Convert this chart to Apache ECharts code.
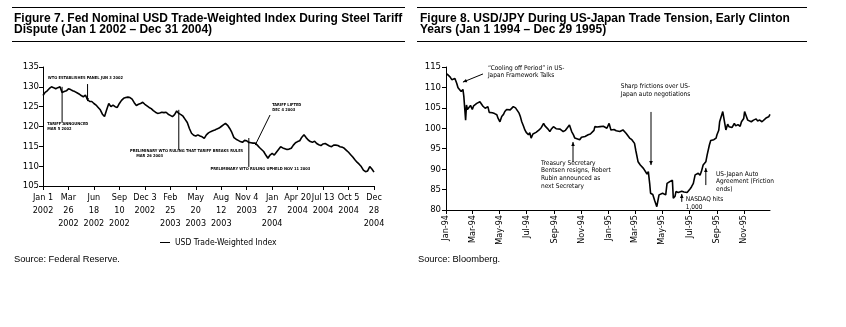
<!DOCTYPE html>
<html>
<head>
<meta charset="utf-8">
<script src="https://cdn.jsdelivr.net/npm/echarts@6/dist/echarts.min.js"></script>
<style>
html, body { margin: 0; padding: 0; background: #fff; }
#chart { width: 846px; height: 327px; }
</style>
</head>
<body>
<div id="chart"></div>
<script>
// Figure 7: weekly Fed nominal USD trade-weighted index, first week of Jan 2002 onward
const twiValues = [
  127.8, 128.6, 129.0, 129.6, 130.0, 129.8, 129.5, 129.8, 130.0, 128.6,
  128.8, 129.0, 129.5, 129.3, 129.0, 128.8, 128.5, 128.2, 127.8, 127.5,
  127.9, 126.8, 126.3, 126.3, 125.8, 125.4, 124.8, 124.2, 123.1, 122.5,
  124.2, 125.8, 125.0, 125.4, 125.0, 124.8, 125.8, 126.6, 127.1, 127.3,
  127.4, 127.3, 126.9, 126.0, 125.3, 125.6, 125.8, 126.1, 125.6, 125.2,
  124.8, 124.5, 124.0, 123.6, 123.3, 123.4, 123.6, 123.5, 123.6, 123.1,
  122.8, 122.5, 123.0, 123.9, 123.3, 123.0, 122.6, 121.8, 121.0, 119.5,
  118.3, 117.8, 117.6, 117.9, 117.6, 117.4, 117.0, 117.9, 118.4, 118.7,
  118.9, 119.1, 119.4, 119.6, 120.0, 120.4, 120.8, 120.3, 119.5, 118.5,
  117.2, 116.8, 116.5, 116.2, 116.0, 116.5, 116.4, 116.0, 115.9, 115.8,
  115.8, 115.3, 114.7, 114.2, 113.7, 112.8, 112.0, 112.8, 113.2, 112.8,
  113.5, 114.2, 114.9, 114.6, 114.4, 114.2, 114.3, 114.5, 115.3, 115.9,
  116.2, 116.4, 117.3, 117.9, 117.2, 116.6, 116.2, 116.0, 116.3, 115.7,
  115.4, 115.2, 115.6, 115.7, 115.4, 115.1, 114.9, 115.3, 115.3, 115.2,
  114.9, 114.8, 114.5, 114.0, 113.5, 112.9, 112.3, 111.6, 111.0, 110.5,
  109.9, 109.0, 108.6, 108.8, 109.9, 109.3, 108.5
];

// Tick labels shown every twelfth week
const twiTickLabels = [
  'Jan 1\n2002', 'Mar\n26\n2002', 'Jun\n18\n2002', 'Sep\n10\n2002', 'Dec 3\n2002',
  'Feb\n25\n2003', 'May\n20\n2003', 'Aug\n12\n2003', 'Nov 4\n2003', 'Jan\n27\n2004',
  'Apr 20\n2004', 'Jul 13\n2004', 'Oct 5\n2004', 'Dec\n28\n2004'
];

// Figure 8: USD/JPY
const jpyDates = [
  '1994-01-03','1994-01-07','1994-01-10','1994-01-14','1994-01-17','1994-01-21','1994-01-25','1994-01-28',
  '1994-02-01','1994-02-04','1994-02-08','1994-02-10','1994-02-14','1994-02-16','1994-02-18','1994-02-22','1994-02-25',
  '1994-03-01','1994-03-04','1994-03-08','1994-03-11','1994-03-15','1994-03-18','1994-03-22','1994-03-25','1994-03-30',
  '1994-04-05','1994-04-08','1994-04-12','1994-04-15','1994-04-20','1994-04-25','1994-04-28',
  '1994-05-02','1994-05-06','1994-05-10','1994-05-13','1994-05-17','1994-05-20','1994-05-25',
  '1994-06-01','1994-06-06','1994-06-09','1994-06-14','1994-06-17','1994-06-20','1994-06-24','1994-06-27','1994-06-30',
  '1994-07-05','1994-07-08','1994-07-11','1994-07-15','1994-07-19','1994-07-22','1994-07-26','1994-07-29',
  '1994-08-03','1994-08-08','1994-08-11','1994-08-15','1994-08-18','1994-08-22','1994-08-26','1994-08-30',
  '1994-09-05','1994-09-09','1994-09-14','1994-09-21','1994-09-26','1994-09-30',
  '1994-10-05','1994-10-10','1994-10-14','1994-10-17','1994-10-21','1994-10-28',
  '1994-11-01','1994-11-04','1994-11-09','1994-11-16','1994-11-21','1994-11-25','1994-11-29',
  '1994-12-01','1994-12-06','1994-12-13','1994-12-16','1994-12-20','1994-12-23','1994-12-28',
  '1995-01-02','1995-01-06','1995-01-10','1995-01-13','1995-01-18','1995-01-22','1995-01-26',
  '1995-02-02','1995-02-09','1995-02-13','1995-02-17','1995-02-22','1995-02-28',
  '1995-03-03','1995-03-08','1995-03-13','1995-03-16','1995-03-20','1995-03-23','1995-03-28','1995-03-31',
  '1995-04-03','1995-04-05','1995-04-10','1995-04-14','1995-04-19','1995-04-21','1995-04-24','1995-04-28',
  '1995-05-02','1995-05-05','1995-05-09','1995-05-12','1995-05-16','1995-05-19','1995-05-24','1995-05-26','1995-05-30',
  '1995-06-01','1995-06-06','1995-06-09','1995-06-14','1995-06-19','1995-06-21','1995-06-26','1995-06-29',
  '1995-07-03','1995-07-06','1995-07-10','1995-07-14','1995-07-18','1995-07-21','1995-07-25','1995-07-28',
  '1995-08-01','1995-08-04','1995-08-07','1995-08-10','1995-08-15','1995-08-18','1995-08-22','1995-08-25','1995-08-30',
  '1995-09-01','1995-09-05','1995-09-07','1995-09-12','1995-09-14','1995-09-18','1995-09-21','1995-09-25','1995-09-28',
  '1995-10-02','1995-10-05','1995-10-10','1995-10-13','1995-10-18','1995-10-23','1995-10-26','1995-10-31',
  '1995-11-02','1995-11-06','1995-11-09','1995-11-13','1995-11-17','1995-11-22','1995-11-28',
  '1995-12-01','1995-12-06','1995-12-11','1995-12-15','1995-12-20','1995-12-26','1995-12-29'
];
const jpyValues = [
  113.3, 112.9, 112.6, 111.9, 111.8, 112.2, 111.0, 109.9,
  110.3, 109.0, 109.5, 107.8, 102.0, 105.7, 104.6, 104.5, 105.6,
  104.6, 105.5, 105.9, 106.1, 105.8, 106.5, 106.1, 105.4, 104.9,
  105.3, 103.9, 104.1, 103.8, 103.6, 103.3, 102.4,
  101.6, 102.9, 103.4, 104.1, 104.6, 104.9, 104.5,
  105.3, 105.0, 104.9, 103.7, 102.8, 101.6, 100.5, 99.6, 99.0,
  98.4, 98.9, 97.6, 98.6, 98.2, 99.0, 98.8, 99.6,
  100.2, 101.2, 100.6, 100.4, 99.8, 99.2, 99.9, 100.4,
  99.9, 99.6, 99.8, 99.2, 99.5, 99.9,
  100.8, 99.2, 98.4, 97.6, 97.4, 97.2,
  97.8, 97.6, 98.0, 98.4, 98.6, 98.8, 99.5,
  100.4, 100.3, 100.4, 100.2, 100.5, 100.4, 100.0,
  101.2, 99.6, 100.0, 99.7, 99.4, 99.8, 99.2,
  99.6, 98.8, 98.6, 97.6, 97.2, 96.3,
  94.5, 91.8, 91.0, 90.6, 90.2, 89.8, 88.8, 89.4,
  86.5, 84.1, 83.8, 82.4, 80.8, 82.0, 83.7, 84.0,
  84.1, 83.8, 83.7, 86.5, 86.8, 87.0, 87.3, 82.9, 83.4,
  84.5, 84.3, 84.1, 84.6, 84.4, 84.5, 84.3, 84.5,
  85.2, 85.7, 86.5, 88.6, 88.2, 89.0, 88.5, 89.4,
  91.0, 90.6, 91.8, 93.5, 95.9, 97.0, 97.1, 97.2, 97.6,
  98.4, 99.5, 101.6, 103.4, 104.1, 104.5, 99.6, 101.0, 100.4,
  100.8, 100.2, 101.2, 100.6, 100.9, 100.5, 101.6, 102.4,
  104.1, 102.9, 102.0, 102.4, 101.6, 102.0, 102.3,
  101.8, 102.0, 101.6, 101.9, 102.5, 102.8, 103.4
];
const MONTHS = ['Jan','Feb','Mar','Apr','May','Jun','Jul','Aug','Sep','Oct','Nov','Dec'];

const DAY = 86400000;
const ts = s => { const p = s.split('-').map(Number); return Date.UTC(p[0], p[1] - 1, p[2]); };

const twiWeeks = twiValues.map((_, i) => new Date(Date.UTC(2002, 0, 1) + i * 7 * DAY).toISOString().slice(0, 10));
const twiLabelMap = {};
twiTickLabels.forEach((t, k) => { twiLabelMap[twiWeeks[k * 12]] = t; });
const jpyData = jpyDates.map((d, i) => [ts(d), jpyValues[i]]);

const NARROW = "'Liberation Sans Narrow', 'Arial Narrow', 'DejaVu Sans Condensed', sans-serif";
const SANS = "'Liberation Sans', Arial, sans-serif";

const chart = echarts.init(document.getElementById('chart'), null, { renderer: 'canvas' });

const axisLine = { show: true, lineStyle: { color: '#000', width: 1 } };
const axisTick = { show: true, length: 4, lineStyle: { color: '#000', width: 1 } };
const titleStyle = { fontFamily: SANS, fontWeight: 'bold', fontSize: 12, lineHeight: 11.5, color: '#000' };

chart.setOption({
  animation: false,
  useUTC: true,
  backgroundColor: '#fff',
  title: [
    {
      text: 'Figure 7. Fed Nominal USD Trade-Weighted Index During Steel Tariff\nDispute (Jan 1 2002 \u2013 Dec 31 2004)',
      left: 14, top: 12.5, padding: 0, textStyle: titleStyle
    },
    {
      text: 'Figure 8. USD/JPY During US-Japan Trade Tension, Early Clinton\nYears (Jan 1 1994 \u2013 Dec 29 1995)',
      left: 420, top: 12.5, padding: 0, textStyle: titleStyle
    },
    {
      text: 'Source: Federal Reserve.', left: 14, top: 255, padding: 0,
      textStyle: { fontFamily: SANS, fontWeight: 'normal', fontSize: 9.3, color: '#000' }
    },
    {
      text: 'Source: Bloomberg.', left: 418, top: 255, padding: 0,
      textStyle: { fontFamily: SANS, fontWeight: 'normal', fontSize: 9.3, color: '#000' }
    }
  ],
  legend: {
    data: ['USD Trade-Weighted Index'],
    left: 160, top: 238, padding: 0,
    icon: 'rect', itemWidth: 10, itemHeight: 1, itemGap: 4,
    textStyle: { fontFamily: NARROW, fontSize: 8.5, color: '#000' }
  },
  grid: [
    { left: 43, right: 472, top: 67, bottom: 141 },
    { left: 446, right: 76, top: 67, bottom: 117 }
  ],
  xAxis: [
    {
      type: 'category', gridIndex: 0, data: twiWeeks, boundaryGap: false,
      axisLine, axisTick: Object.assign({ interval: 11 }, axisTick),
      axisLabel: {
        interval: 11, margin: 5, color: '#000', fontFamily: NARROW, fontSize: 9, lineHeight: 13,
        align: 'center', formatter: v => twiLabelMap[v] || ''
      },
      splitLine: { show: false }
    },
    {
      type: 'time', gridIndex: 1,
      min: ts('1994-01-01'), max: ts('1995-12-29'),
      minInterval: 62 * DAY, maxInterval: 62 * DAY,
      axisLine, axisTick,
      axisLabel: {
        rotate: 90, margin: 5, color: '#000', fontFamily: NARROW, fontSize: 9,
        showMinLabel: true, showMaxLabel: false, hideOverlap: false,
        formatter: v => { const d = new Date(v); return MONTHS[d.getUTCMonth()] + '-' + String(d.getUTCFullYear()).slice(2); }
      },
      splitLine: { show: false }
    }
  ],
  yAxis: [
    {
      type: 'value', gridIndex: 0, min: 105, max: 135, interval: 5,
      axisLine, axisTick,
      axisLabel: { margin: 4, color: '#000', fontFamily: NARROW, fontSize: 9.5 },
      splitLine: { show: false }
    },
    {
      type: 'value', gridIndex: 1, min: 80, max: 115, interval: 5,
      axisLine, axisTick,
      axisLabel: { margin: 5, color: '#000', fontFamily: NARROW, fontSize: 9.5 },
      splitLine: { show: false }
    }
  ],
  series: [
    {
      name: 'USD Trade-Weighted Index', type: 'line', xAxisIndex: 0, yAxisIndex: 0,
      data: twiValues, showSymbol: false, symbol: 'none',
      lineStyle: { color: '#000', width: 1.6 }, itemStyle: { color: '#000' }
    },
    {
      name: 'USD/JPY', type: 'line', xAxisIndex: 1, yAxisIndex: 1,
      data: jpyData, showSymbol: false, symbol: 'none',
      lineStyle: { color: '#000', width: 1.6 }, itemStyle: { color: '#000' }
    }
  ]
});

// Annotation arrows and notes, placed in each panel's data space
const twiNotes = [
  { at: [20.3, 132.2], align: 'center', lines: ['WTO ESTABLISHES PANEL JUN 3 2002'] },
  { at: [2.4, 120.1], align: 'left', lines: ['TARIFF ANNOUNCED', 'MAR 5 2002'] },
  { at: [41.1, 113.3], align: 'left', lines: ['PRELIMINARY WTO RULING THAT TARIFF BREAKS RULES', '     MAR 26 2003'] },
  { at: [107.8, 124.9], align: 'left', lines: ['TARIFF LIFTED', 'DEC 4 2003'] },
  { at: [78.5, 109.3], align: 'left', lines: ['PRELIMINARY WTO RULING UPHELD NOV 11 2003'] }
];
const twiArrows = [
  { from: [21.3, 130.7], to: [21.3, 126.4], head: true },
  { from: [8.6, 130.0], to: [8.6, 120.9], head: false },
  { from: [63.8, 124.2], to: [63.8, 114.1], head: false },
  { from: [107.3, 122.9], to: [100.2, 115.3], head: false },
  { from: [96.5, 117.1], to: [96.5, 109.8], head: false }
];
const jpyNotes = [
  { at: ['1994-04-05', 114.75], lines: ['\u201cCooling off Period\u201d in US-', 'Japan Framework Talks'] },
  { at: ['1995-01-28', 110.2], lines: ['Sharp frictions over US-', 'Japan auto negotiations'] },
  { at: ['1994-08-02', 91.5], lines: ['Treasury Secretary', 'Bentsen resigns, Robert', 'Rubin announced as', 'next Secretary'] },
  { at: ['1995-08-30', 88.8], lines: ['US-Japan Auto', 'Agreement (Friction', 'ends)'] },
  { at: ['1995-06-23', 82.6], lines: ['NASDAQ hits', '1,000'] }
];
const jpyArrows = [
  { from: ['1994-03-25', 113.3], to: ['1994-02-08', 111.3] },
  { from: ['1995-04-06', 104.0], to: ['1995-04-06', 91.0] },
  { from: ['1994-10-13', 91.75], to: ['1994-10-13', 96.65] },
  { from: ['1995-08-07', 86.1], to: ['1995-08-07', 90.3] },
  { from: ['1995-06-14', 82.0], to: ['1995-06-14', 83.9] }
];

function toPx(grid, p) {
  const x = grid === 1 ? ts(p[0]) : p[0];
  return chart.convertToPixel({ gridIndex: grid }, [x, p[1]]);
}

function arrowShapes(a, b, size) {
  const dx = b[0] - a[0], dy = b[1] - a[1];
  const len = Math.hypot(dx, dy) || 1;
  const ux = dx / len, uy = dy / len;
  const bx = b[0] - ux * size, by = b[1] - uy * size;
  const hw = size * 0.45;
  return [
    [b[0], b[1]],
    [bx - uy * hw, by + ux * hw],
    [bx + uy * hw, by - ux * hw]
  ];
}

const graphics = [
  { type: 'line', shape: { x1: 12, y1: 7.5, x2: 405, y2: 7.5 }, style: { stroke: '#000', lineWidth: 1 } },
  { type: 'line', shape: { x1: 12, y1: 41.5, x2: 405, y2: 41.5 }, style: { stroke: '#000', lineWidth: 1 } },
  { type: 'line', shape: { x1: 417, y1: 7.5, x2: 807, y2: 7.5 }, style: { stroke: '#000', lineWidth: 1 } },
  { type: 'line', shape: { x1: 417, y1: 41.5, x2: 807, y2: 41.5 }, style: { stroke: '#000', lineWidth: 1 } }
];

twiArrows.forEach(a => {
  const p1 = toPx(0, a.from), p2 = toPx(0, a.to);
  graphics.push({ type: 'line', shape: { x1: p1[0], y1: p1[1], x2: p2[0], y2: p2[1] }, style: { stroke: '#000', lineWidth: 1 } });
  if (a.head) graphics.push({ type: 'polygon', shape: { points: arrowShapes(p1, p2, 3) }, style: { fill: '#000' } });
});
twiNotes.forEach(n => {
  const p = toPx(0, n.at);
  graphics.push({
    type: 'text', x: p[0], y: p[1],
    style: { text: n.lines.join('\n'), fill: '#000', font: "bold 4px " + NARROW, lineHeight: 5, align: n.align, verticalAlign: 'middle' }
  });
});
jpyArrows.forEach(a => {
  const p1 = toPx(1, a.from), p2 = toPx(1, a.to);
  graphics.push({ type: 'line', shape: { x1: p1[0], y1: p1[1], x2: p2[0], y2: p2[1] }, style: { stroke: '#000', lineWidth: 1 } });
  graphics.push({ type: 'polygon', shape: { points: arrowShapes(p1, p2, 4) }, style: { fill: '#000' } });
});
jpyNotes.forEach(n => {
  const p = toPx(1, n.at);
  graphics.push({
    type: 'text', x: p[0], y: p[1] - 4,
    style: { text: n.lines.join('\n'), fill: '#000', font: "6.5px " + NARROW, lineHeight: 7.7, align: 'left', verticalAlign: 'top' }
  });
});

chart.setOption({ graphic: graphics });
</script>
</body>
</html>
